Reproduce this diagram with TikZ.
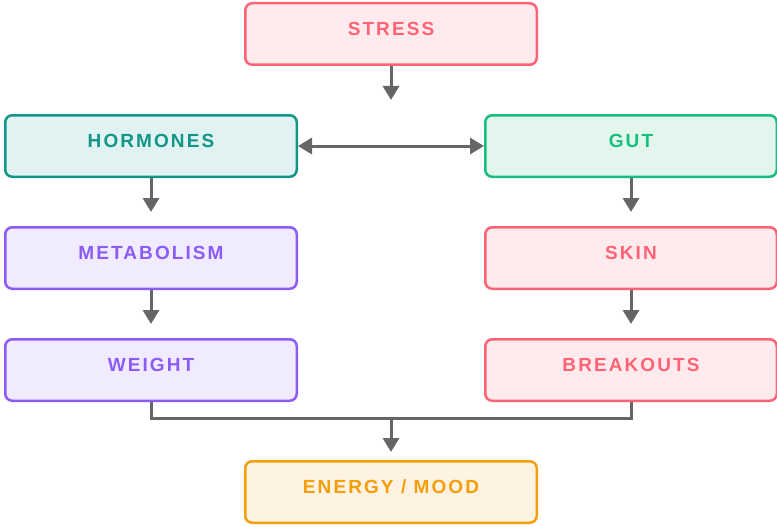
\documentclass[tikz,border=0pt]{standalone}
\usepackage{fontspec}
\usetikzlibrary{arrows.meta,positioning}
\newfontfamily\labelfam[LetterSpace=11]{Liberation Sans}
\newcommand\boxfont{\labelfam\bfseries\fontsize{19pt}{21pt}\selectfont}
\definecolor{roseline}{RGB}{255,99,117}
\definecolor{rosefill}{RGB}{255,235,238}
\definecolor{tealline}{RGB}{17,150,136}
\definecolor{tealfill}{RGB}{224,242,241}
\definecolor{greenline}{RGB}{22,190,128}
\definecolor{greenfill}{RGB}{226,246,238}
\definecolor{violetline}{RGB}{139,92,246}
\definecolor{violetfill}{RGB}{240,235,254}
\definecolor{amberline}{RGB}{245,158,11}
\definecolor{amberfill}{RGB}{254,242,226}
\definecolor{linkgray}{RGB}{102,102,102}

\begin{document}
\begin{tikzpicture}[-,>={Triangle[length=14pt,width=16pt]},node distance=48pt,
 box/.style={rectangle,rounded corners=7pt,line width=2.5pt,minimum width=291.5pt,
  minimum height=61.5pt,text height=13.5pt,text depth=9.8pt,font=\boxfont},
 rosebox/.style={box,draw=roseline,fill=rosefill,text=roseline},
 tealbox/.style={box,draw=tealline,fill=tealfill,text=tealline},
 greenbox/.style={box,draw=greenline,fill=greenfill,text=greenline},
 violetbox/.style={box,draw=violetline,fill=violetfill,text=violetline},
 amberbox/.style={box,draw=amberline,fill=amberfill,text=amberline},
 link/.style={draw=linkgray,line width=3pt}]
 \useasboundingbox (0,0) rectangle (777pt,-527pt);

 % 8 boxes
 \node[rosebox] (stress) at (391pt,-34pt) {STRESS};
 \node[tealbox] (hormones) [below=of stress,xshift=-240pt] {HORMONES};
 \node[greenbox] (gut) [right=186pt of hormones] {GUT};
 \node[violetbox] (metabolism) [below=of hormones] {METABOLISM};
 \node[rosebox] (skin) [below=of gut] {SKIN};
 \node[violetbox] (weight) [below=of metabolism] {WEIGHT};
 \node[rosebox] (breakouts) [below=of skin] {BREAKOUTS};
 \node[amberbox] (energy) [below=58pt of weight,xshift=240pt] {ENERGY / MOOD};

 % arrows between the boxes
 \coordinate (split) at ([yshift=-34pt]stress.south);
 \draw[link,->] (stress) -- (split);
 \draw[link,<->] (hormones) -- (gut);
 \draw[link,->,shorten >=14pt] (hormones) -- (metabolism);
 \draw[link,->,shorten >=14pt] (metabolism) -- (weight);
 \draw[link,->,shorten >=14pt] (gut) -- (skin);
 \draw[link,->,shorten >=14pt] (skin) -- (breakouts);

 % both columns join into the last box
 \draw[link] (weight.south) -- ++(0,-16pt) coordinate (join) -| (breakouts.south);
 \draw[link,->,shorten >=8pt] (join -| energy.north) -- (energy);
\end{tikzpicture}
\end{document}
